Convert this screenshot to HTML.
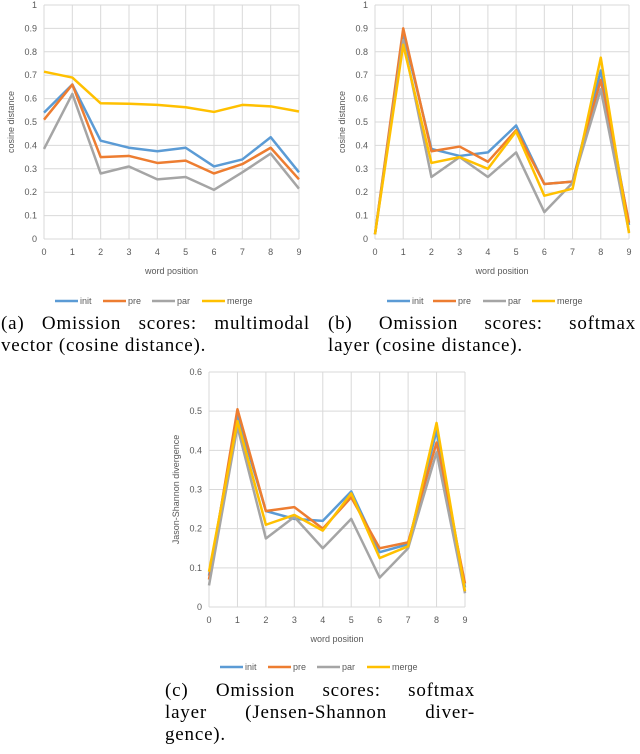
<!DOCTYPE html>
<html><head><meta charset="utf-8"><style>
body{margin:0;background:#fff;width:640px;height:754px;overflow:hidden;position:relative;font-family:"Liberation Serif",serif}
.cap{position:absolute;font-size:19px;line-height:22px;color:#000;letter-spacing:0.8px}
.j{text-align:justify;text-align-last:justify;white-space:nowrap}
</style></head><body>
<svg id="s" width="640" height="754" style="position:absolute;left:0;top:0"></svg>
<div class="cap" style="left:1px;top:313px;width:309px"><div class="j">(a) Omission scores: multimodal</div><div>vector (cosine distance).</div></div>
<div class="cap" style="left:328px;top:313px;width:308px"><div class="j">(b) Omission scores: softmax</div><div>layer (cosine distance).</div></div>
<div class="cap" style="left:165px;top:680px;width:310px"><div class="j">(c) Omission scores: softmax</div><div class="j">layer (Jensen-Shannon diver-</div><div>gence).</div></div>
<script>
const categories=[0,1,2,3,4,5,6,7,8,9];
const seriesNames=["init","pre","par","merge"];
const colors=["#5b9bd5","#ed7d31","#a5a5a5","#ffc000"];
const aInit=[.54,.66,.42,.39,.375,.39,.31,.34,.435,.285];
const aPre=[.51,.66,.35,.355,.325,.335,.28,.32,.39,.255];
const aPar=[.385,.62,.28,.31,.255,.265,.21,.285,.365,.215];
const aMerge=[.715,.69,.58,.578,.573,.563,.543,.573,.567,.545];
const bInit=[.02,.88,.385,.355,.37,.485,.235,.245,.72,.06];
const bPre=[.02,.9,.375,.395,.33,.465,.235,.245,.68,.07];
const bPar=[.02,.85,.265,.35,.265,.37,.115,.24,.64,.03];
const bMerge=[.02,.83,.325,.35,.3,.46,.185,.215,.775,.025];
const cInit=[.08,.49,.245,.225,.22,.295,.14,.16,.45,.05];
const cPre=[.07,.505,.245,.255,.2,.28,.15,.165,.42,.06];
const cPar=[.055,.46,.175,.23,.15,.225,.075,.15,.395,.035];
const cMerge=[.09,.475,.21,.235,.195,.29,.125,.155,.47,.04];
const ticksAB=["0","0.1","0.2","0.3","0.4","0.5","0.6","0.7","0.8","0.9","1"];
const ticksC=["0","0.1","0.2","0.3","0.4","0.5","0.6"];
const NS="http://www.w3.org/2000/svg";
const svg=document.getElementById("s");
function el(tag,attrs,parent){const e=document.createElementNS(NS,tag);for(const k in attrs)e.setAttribute(k,attrs[k]);(parent||svg).appendChild(e);return e;}
function chart(id,x0,x9,y0,yTop,ymax,ticks,series,ytitle,legY,legX){
  const g=el("g",{});
  
  
  const X=i=>x0+(x9-x0)*i/(categories.length-1);
  const Y=v=>y0-(y0-yTop)*v/ymax;
  ticks.forEach((t,i)=>{const v=ymax*i/(ticks.length-1);
    const l=el("line",{x1:x0,x2:x9,y1:Y(v),y2:Y(v),stroke:"#d9d9d9","stroke-width":1},g);
    
    const tx=el("text",{x:x0-7,y:Y(v)+3,"text-anchor":"end","font-size":"9","fill":"#595959","font-family":"Liberation Sans, sans-serif"},g);tx.textContent=t;
    });
  categories.forEach((c,i)=>{
    const l=el("line",{x1:X(i),x2:X(i),y1:yTop,y2:y0,stroke:"#d9d9d9","stroke-width":1},g);
    
    const tx=el("text",{x:X(i),y:y0+16,"text-anchor":"middle","font-size":"9","fill":"#595959","font-family":"Liberation Sans, sans-serif"},g);tx.textContent=c;
    });
  const xt=el("text",{x:(x0+x9)/2,y:y0+35,"text-anchor":"middle","font-size":"9","fill":"#595959","font-family":"Liberation Sans, sans-serif"},g);xt.textContent="word position";
  
  const yx=x0-30,yy=(y0+yTop)/2;
  const yt=el("text",{x:yx,y:yy,"text-anchor":"middle","font-size":"9","fill":"#595959","font-family":"Liberation Sans, sans-serif",transform:`rotate(-90 ${yx} ${yy})`},g);yt.textContent=ytitle;
  
  series.forEach((d,s)=>{
    const p=el("polyline",{points:d.map((v,i)=>X(i)+","+Y(v)).join(" "),fill:"none",stroke:colors[s],"stroke-width":2.5,"stroke-linejoin":"round"},g);
    });
  seriesNames.forEach((n,s)=>{const lx=legX[s];
    const l=el("line",{x1:lx,x2:lx+23,y1:legY,y2:legY,stroke:colors[s],"stroke-width":2.5},g);
    
    const t=el("text",{x:lx+25,y:legY+3,"font-size":"9","fill":"#595959","font-family":"Liberation Sans, sans-serif"},g);t.textContent=n;
    });
}
chart("a",44,299,239,5,1,ticksAB,[aInit,aPre,aPar,aMerge],"cosine distance",301,[55,103,152,202]);
chart("b",375,629,239,5,1,ticksAB,[bInit,bPre,bPar,bMerge],"cosine distance",301,[387,433,483,532]);
chart("c",209,465,607,372,0.6,ticksC,[cInit,cPre,cPar,cMerge],"Jason-Shannon divergence",667,[220,268,317,367]);
</script>
</body></html>
